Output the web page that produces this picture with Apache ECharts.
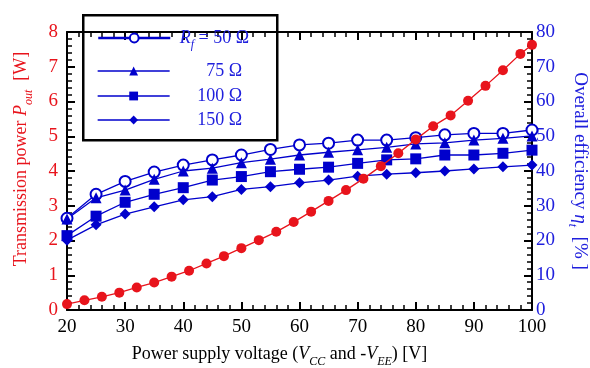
<!DOCTYPE html>
<html><head><meta charset="utf-8">
<script src="https://cdn.jsdelivr.net/npm/echarts@6/dist/echarts.min.js"></script>
<style>html,body{margin:0;padding:0;background:#fff}#c{width:590px;height:368px}</style>
</head><body><div id="c"></div>
<script>
const powerX = [20,23,26,29,32,35,38,41,44,47,50,53,56,59,62,65,68,71,74,77,80,83,86,89,92,95,98,100];
const powerOut = [0.17,0.28,0.38,0.5,0.65,0.79,0.96,1.13,1.34,1.55,1.78,2.01,2.25,2.53,2.83,3.14,3.45,3.78,4.14,4.51,4.91,5.29,5.6,6.02,6.45,6.9,7.37,7.63];
const effX = [20,25,30,35,40,45,50,55,60,65,70,75,80,85,90,95,100];
const eff50 = [26.4,33.3,37.0,39.7,41.7,43.2,44.6,46.2,47.5,48.0,48.9,48.9,49.6,50.4,50.8,50.8,51.8];
const eff75 = [26.2,32.3,34.5,37.6,40.0,40.8,42.4,43.4,44.6,45.4,46.1,46.8,47.8,48.1,48.9,49.4,50.1];
const eff100 = [21.4,27.0,31.0,33.3,35.2,37.4,38.4,39.8,40.5,41.1,42.2,43.2,43.5,44.6,44.6,45.1,46.0];
const eff150 = [20.1,24.5,27.6,29.7,31.7,32.6,34.7,35.5,36.6,37.4,38.5,39.1,39.5,40.0,40.6,41.2,41.7];
const xTicks = {min:20,max:100,interval:10};
const leftTicks = {min:0,max:8,interval:1};
const rightTicks = {min:0,max:80,interval:10};

const RED = '#e8141c', BLUE = '#0000cc', TBLUE = '#2020dd';
const FONT = 'Liberation Serif';
const pair = (xs, ys) => xs.map((x,i)=>[x, ys[i]]);

const chart = echarts.init(document.getElementById('c'), null, {renderer:'canvas'});
const tickBase = {show:true, inside:true, length:8, lineStyle:{color:'#000', width:2}};
const minorBase = {show:true, splitNumber:5, length:5, lineStyle:{color:'#000', width:1.5}};
const axisLineBase = {show:true, onZero:false, lineStyle:{color:'#000', width:2}};

function blueSeries(name, data, symbol, extra) {
  return Object.assign({
    name, type:'line', xAxisIndex:0, yAxisIndex:1, data: pair(effX, data),
    symbol, symbolSize: 10, showSymbol:true,
    lineStyle:{color:BLUE, width:1.3}, itemStyle:{color:BLUE}, z:3
  }, extra||{});
}

const legendTextStyle = {
  fontFamily: FONT, fontSize: 18, color: TBLUE,
  rich: {
    it: {fontFamily: FONT, fontSize: 18, fontStyle:'italic', color: TBLUE},
    sub: {fontFamily: FONT, fontSize: 12, fontStyle:'italic', color: TBLUE, verticalAlign:'bottom', padding:[14,0,0,0]},
    n: {fontFamily: FONT, fontSize: 18, color: TBLUE}
  }
};
function leg(name, top, fmt, lw) {
  return {
    data:[name], left: 97, top, orient:'horizontal', itemWidth:72, itemHeight:11,
    selectedMode:false, padding:0, textStyle: legendTextStyle,
    formatter: () => fmt,
    lineStyle: {width: lw}
  };
}
function richFor(color, size) {
  return {
    n:{fontSize:size,fontFamily:FONT,color},
    it:{fontSize:size,fontFamily:FONT,fontStyle:'italic',color},
    sub:{fontSize:12,fontFamily:FONT,fontStyle:'italic',color,verticalAlign:'bottom',padding:[16,0,0,0]}
  };
}

chart.setOption({
  animation:false,
  textStyle:{fontFamily:FONT},
  grid:{left:67, right:58, top:32, bottom:58, outerBoundsMode:'none', containLabel:false},
  legend:[
    leg('50', 29, '{n| }{it|R}{sub|f}{n| = 50 Ω}', 2.5),
    leg('75', 62, '{n|       75 Ω}', 1.3),
    leg('100', 87, '{n|     100 Ω}', 1.3),
    leg('150', 111, '{n|     150 Ω}', 1.3)
  ],
  xAxis:[
    {type:'value', position:'bottom', min:xTicks.min, max:xTicks.max, interval:xTicks.interval,
     axisLine:axisLineBase, axisTick:tickBase, minorTick:minorBase, splitLine:{show:false},
     axisLabel:{color:'#000', fontSize:19, fontFamily:FONT, margin:8},
     name:'{n|Power supply voltage (}{it|V}{sub|CC}{n| and -}{it|V}{sub|EE}{n|) [V]}',
     nameLocation:'middle', nameGap:30,
     nameTextStyle:{color:'#000', fontFamily:FONT, fontSize:18, padding:[0,40,0,0], rich:richFor('#000',18)}},
    {type:'value', position:'top', min:xTicks.min, max:xTicks.max, interval:xTicks.interval,
     axisLine:axisLineBase, axisTick:tickBase, minorTick:minorBase, splitLine:{show:false},
     axisLabel:{show:false}}
  ],
  yAxis:[
    {type:'value', position:'left', min:leftTicks.min, max:leftTicks.max, interval:leftTicks.interval,
     axisLine:axisLineBase, axisTick:tickBase, minorTick:minorBase, splitLine:{show:false},
     axisLabel:{color:RED, fontSize:19, fontFamily:FONT, margin:9},
     name:'{n|Transmission power }{it|P}{sub|out}{n|  [W]}',
     nameLocation:'middle', nameGap:32, nameRotate:90,
     nameTextStyle:{color:RED, fontFamily:FONT, fontSize:18, padding:[0,0,0,24], rich:richFor(RED,18)}},
    {type:'value', position:'right', min:rightTicks.min, max:rightTicks.max, interval:rightTicks.interval,
     axisLine:axisLineBase, axisTick:tickBase, minorTick:minorBase, splitLine:{show:false},
     axisLabel:{color:TBLUE, fontSize:19, fontFamily:FONT, margin:4},
     name:'{n|Overall efficiency }{it|η}{sub|t}{n|  [% ]}',
     nameLocation:'middle', nameGap:34, nameRotate:-90,
     nameTextStyle:{color:TBLUE, fontFamily:FONT, fontSize:19, rich:richFor(TBLUE,19)}}
  ],
  graphic:[
    {type:'rect', left:82, top:14, shape:{width:194, height:125}, z:100,
     style:{fill:'rgba(0,0,0,0)', stroke:'#000', lineWidth:2.5}, silent:true}
  ],
  series:[
    {name:'power', type:'line', xAxisIndex:0, yAxisIndex:0, data:pair(powerX, powerOut),
     symbol:'circle', symbolSize:10, lineStyle:{color:RED, width:1.3}, itemStyle:{color:RED}, z:4},
    blueSeries('50', eff50, 'emptyCircle', {itemStyle:{color:BLUE, borderColor:BLUE, borderWidth:1.2}, symbolSize:11}),
    blueSeries('75', eff75, 'triangle', {symbolSize:11}),
    blueSeries('100', eff100, 'rect', {symbolSize:11}),
    blueSeries('150', eff150, 'diamond', {symbolSize:11})
  ]
});
</script></body></html>
